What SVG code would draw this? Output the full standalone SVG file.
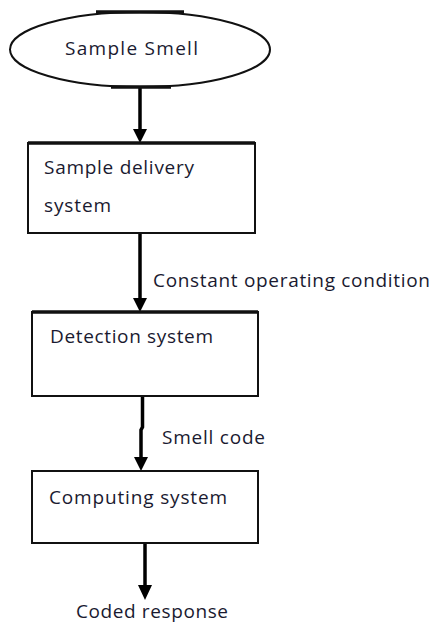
<svg xmlns="http://www.w3.org/2000/svg" width="433" height="625" viewBox="0 0 433 625">
<style>
.bg{fill:#fff}
.shape{fill:#fff;stroke:#111;stroke-width:2}
.bar{stroke:#111;stroke-width:3.5}
.conn{fill:none;stroke:#000;stroke-width:3.5}
.head{fill:#000}
text{font-family:"Open Sans","Liberation Sans",Arial,sans-serif;font-size:19px;fill:#1a1a30}
</style>
<rect class="bg" width="433" height="625"/>
<g id="connectors">
<path class="conn" d="M140,87 V132"/>
<path class="conn" d="M140,233 V301"/>
<path class="conn" d="M142.5,396 V427 L141,430 V460"/>
<path class="conn" d="M145,543 V588"/>
<path class="head" d="M133,129 L147,129 L140,143 Z"/>
<path class="head" d="M133,298 L147,298 L140,312 Z"/>
<path class="head" d="M134,457 L148,457 L141,471 Z"/>
<path class="head" d="M138,585 L152,585 L145,600 Z"/>
</g>
<g id="sample-smell">
<ellipse class="shape" cx="140" cy="49.5" rx="130" ry="37.5"/>
<line class="bar" x1="96" y1="12" x2="184" y2="12"/>
<line class="bar" x1="111" y1="87" x2="171" y2="87"/>
<text x="65" y="55" textLength="133" lengthAdjust="spacing">Sample Smell</text>
</g>
<g id="sample-delivery">
<rect class="shape" x="28" y="143" width="227" height="90"/>
<line class="bar" x1="28" y1="143" x2="255" y2="143"/>
<text x="44" y="174" textLength="150" lengthAdjust="spacing">Sample delivery</text>
<text x="44" y="212" textLength="67" lengthAdjust="spacing">system</text>
</g>
<g id="label-constant">
<text x="153" y="287" textLength="277" lengthAdjust="spacing">Constant operating condition</text>
</g>
<g id="detection">
<rect class="shape" x="32" y="312" width="226" height="84"/>
<line class="bar" x1="32" y1="312" x2="258" y2="312"/>
<text x="50" y="343" textLength="163" lengthAdjust="spacing">Detection system</text>
</g>
<g id="label-smell-code">
<text x="162" y="444" textLength="103" lengthAdjust="spacing">Smell code</text>
</g>
<g id="computing">
<rect class="shape" x="32" y="471" width="226" height="72"/>
<text x="49" y="504" textLength="178" lengthAdjust="spacing">Computing system</text>
</g>
<g id="label-coded">
<text x="76" y="618" textLength="152" lengthAdjust="spacing">Coded response</text>
</g>
</svg>
